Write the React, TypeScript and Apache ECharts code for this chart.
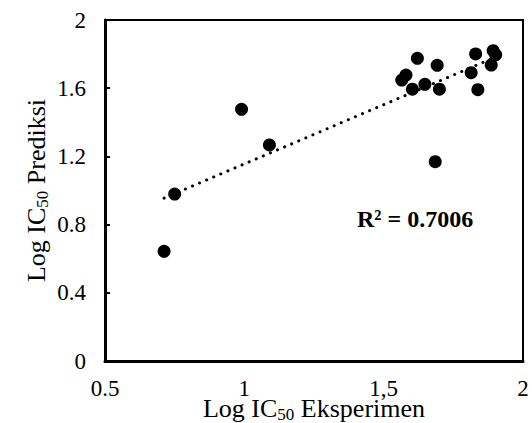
import React, { useEffect, useRef } from "react";
import * as echarts from "echarts";

// Experimental log IC50 (x) vs predicted log IC50 (y)
const logIC50Experimental = [
  0.712, 0.75, 0.99, 1.09, 1.621, 1.692, 1.58, 1.565, 1.603, 1.648, 1.7,
  1.83, 1.893, 1.902, 1.886, 1.814, 1.838, 1.685,
];
const logIC50Predicted = [
  0.643, 0.979, 1.476, 1.267, 1.775, 1.734, 1.677, 1.648, 1.594, 1.623,
  1.594, 1.801, 1.82, 1.796, 1.736, 1.691, 1.591, 1.169,
];
const xTickLabels = ["0.5", "1", "1,5", "2"];
const yTickLabels = ["0", "0.4", "0.8", "1.2", "1.6", "2"];
const r2Label = "R\u00b2 = 0.7006";

const FONT = "'Liberation Serif', 'Times New Roman', serif";

function linearFit(xs: number[], ys: number[]) {
  const n = xs.length;
  const mx = xs.reduce((a, b) => a + b, 0) / n;
  const my = ys.reduce((a, b) => a + b, 0) / n;
  let sxy = 0;
  let sxx = 0;
  for (let i = 0; i < n; i++) {
    sxy += (xs[i] - mx) * (ys[i] - my);
    sxx += (xs[i] - mx) * (xs[i] - mx);
  }
  const slope = sxy / sxx;
  return { slope, intercept: my - slope * mx };
}

export default function App() {
  const ref = useRef<HTMLDivElement>(null);

  useEffect(() => {
    if (!ref.current) return;
    const chart = echarts.init(ref.current, undefined, { renderer: "svg" });

    const points = logIC50Experimental.map((x, i) => [x, logIC50Predicted[i]]);
    const fit = linearFit(logIC50Experimental, logIC50Predicted);
    const xMin = Math.min(...logIC50Experimental);
    const xMax = Math.max(...logIC50Experimental);
    const trend = [
      [xMin, fit.intercept + fit.slope * xMin],
      [xMax, fit.intercept + fit.slope * xMax],
    ];

    const nameRich = {
      a: { fontSize: 26, fontFamily: FONT, color: "#000", lineHeight: 30 },
      s: {
        fontSize: 17,
        fontFamily: FONT,
        color: "#000",
        lineHeight: 16,
        verticalAlign: "bottom",
      },
    };

    chart.setOption({
      animation: false,
      backgroundColor: "#fff",
      grid: {
        left: 105,
        right: 9,
        top: 20,
        bottom: 62,
        show: true,
        borderColor: "#000",
        borderWidth: 2,
        containLabel: false,
        outerBoundsMode: "none",
      },
      xAxis: {
        type: "value",
        min: 0.5,
        max: 2,
        interval: 0.5,
        name: "{a|Log IC}{s|50}{a| Eksperimen}",
        nameLocation: "middle",
        nameGap: 32,
        nameMoveOverlap: false,
        nameTextStyle: { rich: nameRich },
        axisLine: { show: true, lineStyle: { color: "#000", width: 3 } },
        axisTick: { show: false },
        splitLine: { show: false },
        axisLabel: {
          color: "#000",
          fontFamily: FONT,
          fontSize: 23,
          lineHeight: 16,
          margin: 19,
          formatter: (_v: number, i: number) => xTickLabels[i] ?? "",
        },
      },
      yAxis: {
        type: "value",
        min: 0,
        max: 2,
        interval: 0.4,
        name: "{a|Log IC}{s|50}{a| Prediksi}",
        nameLocation: "middle",
        nameRotate: 90,
        nameGap: 54,
        nameMoveOverlap: false,
        nameTextStyle: { rich: nameRich },
        axisLine: { show: true, lineStyle: { color: "#000", width: 3 } },
        axisTick: {
          show: true,
          inside: true,
          length: 5,
          lineStyle: { color: "#000", width: 2 },
        },
        splitLine: { show: false },
        axisLabel: {
          color: "#000",
          fontFamily: FONT,
          fontSize: 23,
          margin: 19,
          formatter: (_v: number, i: number) => yTickLabels[i] ?? "",
        },
      },
      series: [
        {
          type: "line",
          data: trend,
          showSymbol: false,
          symbol: "none",
          silent: true,
          lineStyle: {
            color: "#000",
            width: 3,
            type: [0.1, 7.6],
            cap: "round",
          },
          z: 2,
        },
        {
          type: "scatter",
          data: points,
          symbol: "circle",
          symbolSize: 13,
          itemStyle: { color: "#000", opacity: 1 },
          z: 3,
        },
      ],
      graphic: [
        {
          type: "text",
          left: 357,
          top: 207,
          style: {
            text: r2Label,
            fontFamily: FONT,
            fontSize: 24,
            fontWeight: "bold",
            fill: "#000",
          },
        },
      ],
    });

    return () => chart.dispose();
  }, []);

  return (
    <div
      ref={ref}
      style={{ position: "fixed", left: 0, top: 0, width: 532, height: 423 }}
    />
  );
}
